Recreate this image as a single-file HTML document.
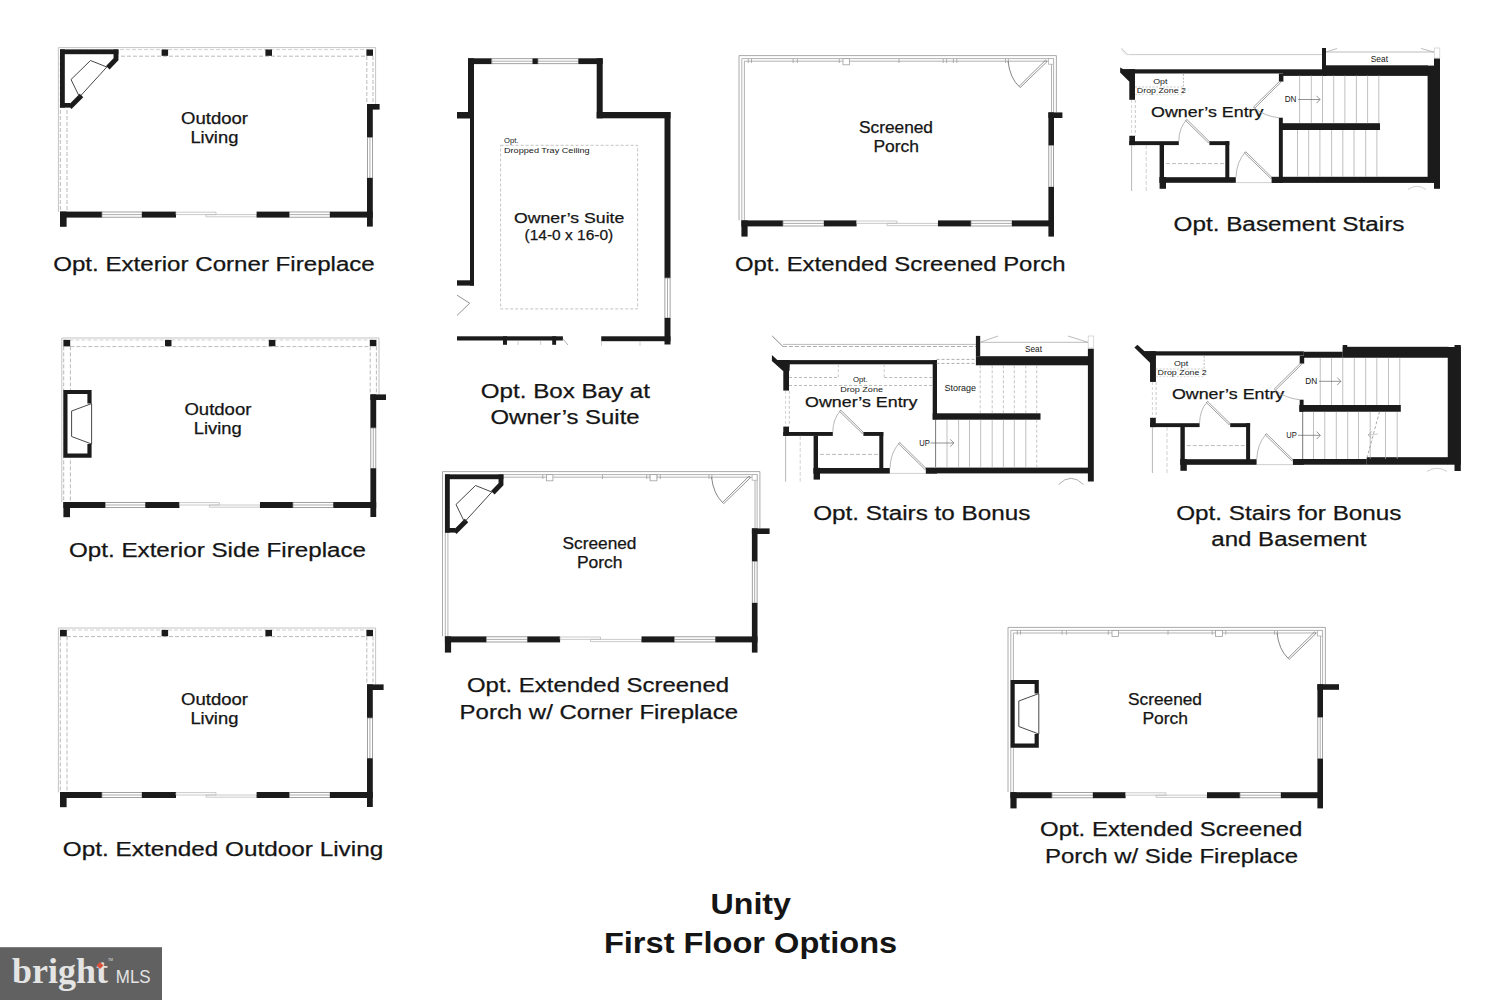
<!DOCTYPE html><html><head><meta charset="utf-8"><style>html,body{margin:0;padding:0;background:#fff;}svg{display:block;}text{font-family:"Liberation Sans",sans-serif;}</style></head><body>
<svg width="1500" height="1000" viewBox="0 0 1500 1000">
<rect x="0.00" y="0.00" width="1500.00" height="1000.00" fill="#fff"/>
<g transform="translate(0,0)">
<path d="M58.4 212 L58.4 47.6 L375.6 47.6 L375.6 104" fill="none" stroke="#bdbdbd" stroke-width="0.9" />
<line x1="60.00" y1="49.60" x2="373.00" y2="49.60" stroke="#c4c4c4" stroke-width="0.8" stroke-dasharray="4 2"/>
<line x1="67.00" y1="56.20" x2="366.50" y2="56.20" stroke="#a8a8a8" stroke-width="0.8" stroke-dasharray="4 2"/>
<line x1="60.30" y1="56.00" x2="60.30" y2="212.00" stroke="#a8a8a8" stroke-width="0.8" stroke-dasharray="4 2"/>
<line x1="67.00" y1="56.00" x2="67.00" y2="212.00" stroke="#a8a8a8" stroke-width="0.8" stroke-dasharray="4 2"/>
<line x1="366.80" y1="56.00" x2="366.80" y2="104.00" stroke="#a8a8a8" stroke-width="0.8" stroke-dasharray="4 2"/>
<line x1="373.00" y1="56.00" x2="373.00" y2="104.00" stroke="#a8a8a8" stroke-width="0.8" stroke-dasharray="4 2"/>
<rect x="161.60" y="49.50" width="6.50" height="6.30" fill="#1b1b1b"/>
<rect x="265.40" y="49.50" width="6.60" height="6.30" fill="#1b1b1b"/>
<rect x="366.40" y="49.50" width="6.60" height="6.30" fill="#1b1b1b"/>
<rect x="367.00" y="104.00" width="5.80" height="33.60" fill="#1b1b1b"/>
<rect x="367.00" y="104.00" width="12.60" height="5.60" fill="#1b1b1b"/>
<rect x="367.40" y="137.60" width="5.00" height="40.40" fill="#fff" stroke="#8a8a8a" stroke-width="0.8"/>
<line x1="369.90" y1="137.60" x2="369.90" y2="178.00" stroke="#8a8a8a" stroke-width="0.7"/>
<rect x="367.00" y="178.00" width="5.80" height="48.60" fill="#1b1b1b"/>
<rect x="60.00" y="211.60" width="6.60" height="15.20" fill="#1b1b1b"/>
<rect x="60.00" y="211.60" width="42.00" height="6.00" fill="#1b1b1b"/>
<rect x="102.00" y="212.00" width="40.00" height="5.20" fill="#fff" stroke="#8a8a8a" stroke-width="0.8"/>
<line x1="102.00" y1="214.60" x2="142.00" y2="214.60" stroke="#8a8a8a" stroke-width="0.7"/>
<rect x="142.00" y="211.60" width="34.00" height="6.00" fill="#1b1b1b"/>
<path d="M176 212.2 L216 212.2 L216 214.6 L176 214.6 Z" fill="none" stroke="#bdbdbd" stroke-width="0.8" />
<path d="M206 214.6 L256.6 214.6 L256.6 216.8 L206 216.8 Z" fill="none" stroke="#bdbdbd" stroke-width="0.8" />
<rect x="256.60" y="211.60" width="33.00" height="6.00" fill="#1b1b1b"/>
<rect x="289.60" y="212.00" width="40.40" height="5.20" fill="#fff" stroke="#8a8a8a" stroke-width="0.8"/>
<line x1="289.60" y1="214.60" x2="330.00" y2="214.60" stroke="#8a8a8a" stroke-width="0.7"/>
<rect x="330.00" y="211.60" width="42.80" height="6.00" fill="#1b1b1b"/>
<text x="181.00" y="124.20" font-size="15.6" font-weight="normal" fill="#151515" stroke="#151515" stroke-width="0.25" textLength="67.00" lengthAdjust="spacingAndGlyphs">Outdoor</text>
<text x="190.40" y="143.40" font-size="15.6" font-weight="normal" fill="#151515" stroke="#151515" stroke-width="0.25" textLength="48.00" lengthAdjust="spacingAndGlyphs">Living</text>
</g>
<g transform="translate(0,0)">
<polygon points="60,49.4 118.4,49.4 118.4,60 71,107.6 60,107.6" fill="#fff"/>
<rect x="60.00" y="49.40" width="58.40" height="4.80" fill="#1b1b1b"/>
<rect x="60.00" y="49.40" width="4.80" height="58.20" fill="#1b1b1b"/>
<rect x="60.00" y="103.00" width="10.00" height="4.60" fill="#1b1b1b"/>
<path d="M116 49.4 L116 59.2 L107.8 67.8" fill="none" stroke="#1b1b1b" stroke-width="4.9" stroke-linejoin="miter"/>
<path d="M81.5 95.5 L69.8 107.2" fill="none" stroke="#1b1b1b" stroke-width="4.9" />
<path d="M90.5 60.5 L106.8 67 L79.5 97 L71 79.5 Z" fill="none" stroke="#333" stroke-width="0.9" />
</g>
<text x="53.20" y="271.00" font-size="20" font-weight="normal" fill="#151515" stroke="#151515" stroke-width="0.25" textLength="321.60" lengthAdjust="spacingAndGlyphs">Opt. Exterior Corner Fireplace</text>
<g transform="translate(3.4,290.4)">
<path d="M58.4 212 L58.4 47.6 L375.6 47.6 L375.6 104" fill="none" stroke="#bdbdbd" stroke-width="0.9" />
<line x1="60.00" y1="49.60" x2="373.00" y2="49.60" stroke="#c4c4c4" stroke-width="0.8" stroke-dasharray="4 2"/>
<line x1="67.00" y1="56.20" x2="366.50" y2="56.20" stroke="#a8a8a8" stroke-width="0.8" stroke-dasharray="4 2"/>
<line x1="60.30" y1="56.00" x2="60.30" y2="212.00" stroke="#a8a8a8" stroke-width="0.8" stroke-dasharray="4 2"/>
<line x1="67.00" y1="56.00" x2="67.00" y2="212.00" stroke="#a8a8a8" stroke-width="0.8" stroke-dasharray="4 2"/>
<line x1="366.80" y1="56.00" x2="366.80" y2="104.00" stroke="#a8a8a8" stroke-width="0.8" stroke-dasharray="4 2"/>
<line x1="373.00" y1="56.00" x2="373.00" y2="104.00" stroke="#a8a8a8" stroke-width="0.8" stroke-dasharray="4 2"/>
<rect x="60.00" y="49.50" width="6.80" height="6.50" fill="#1b1b1b"/>
<rect x="161.60" y="49.50" width="6.50" height="6.30" fill="#1b1b1b"/>
<rect x="265.40" y="49.50" width="6.60" height="6.30" fill="#1b1b1b"/>
<rect x="366.40" y="49.50" width="6.60" height="6.30" fill="#1b1b1b"/>
<rect x="367.00" y="104.00" width="5.80" height="33.60" fill="#1b1b1b"/>
<rect x="367.00" y="104.00" width="15.60" height="5.60" fill="#1b1b1b"/>
<rect x="367.40" y="137.60" width="5.00" height="40.40" fill="#fff" stroke="#8a8a8a" stroke-width="0.8"/>
<line x1="369.90" y1="137.60" x2="369.90" y2="178.00" stroke="#8a8a8a" stroke-width="0.7"/>
<rect x="367.00" y="178.00" width="5.80" height="48.60" fill="#1b1b1b"/>
<rect x="60.00" y="211.60" width="6.60" height="15.20" fill="#1b1b1b"/>
<rect x="60.00" y="211.60" width="42.00" height="6.00" fill="#1b1b1b"/>
<rect x="102.00" y="212.00" width="40.00" height="5.20" fill="#fff" stroke="#8a8a8a" stroke-width="0.8"/>
<line x1="102.00" y1="214.60" x2="142.00" y2="214.60" stroke="#8a8a8a" stroke-width="0.7"/>
<rect x="142.00" y="211.60" width="34.00" height="6.00" fill="#1b1b1b"/>
<path d="M176 212.2 L216 212.2 L216 214.6 L176 214.6 Z" fill="none" stroke="#bdbdbd" stroke-width="0.8" />
<path d="M206 214.6 L256.6 214.6 L256.6 216.8 L206 216.8 Z" fill="none" stroke="#bdbdbd" stroke-width="0.8" />
<rect x="256.60" y="211.60" width="33.00" height="6.00" fill="#1b1b1b"/>
<rect x="289.60" y="212.00" width="40.40" height="5.20" fill="#fff" stroke="#8a8a8a" stroke-width="0.8"/>
<line x1="289.60" y1="214.60" x2="330.00" y2="214.60" stroke="#8a8a8a" stroke-width="0.7"/>
<rect x="330.00" y="211.60" width="42.80" height="6.00" fill="#1b1b1b"/>
<text x="181.00" y="124.20" font-size="15.6" font-weight="normal" fill="#151515" stroke="#151515" stroke-width="0.25" textLength="67.00" lengthAdjust="spacingAndGlyphs">Outdoor</text>
<text x="190.40" y="143.40" font-size="15.6" font-weight="normal" fill="#151515" stroke="#151515" stroke-width="0.25" textLength="48.00" lengthAdjust="spacingAndGlyphs">Living</text>
</g>
<g transform="translate(0,0)">
<rect x="63.40" y="390.00" width="28.20" height="67.60" fill="#fff"/>
<path d="M89.5 403.6 L89.5 392 L65.4 392 L65.4 455.6 L89.5 455.6 L89.5 444" fill="none" stroke="#1b1b1b" stroke-width="4.2" stroke-linejoin="miter"/>
<path d="M91.6 403.6 L71.6 411 L71.6 436.5 L91.6 444" fill="none" stroke="#333" stroke-width="0.9" />
<line x1="91.60" y1="403.60" x2="91.60" y2="444.00" stroke="#333" stroke-width="0.9"/>
</g>
<text x="69.00" y="556.50" font-size="20" font-weight="normal" fill="#151515" stroke="#151515" stroke-width="0.25" textLength="297.00" lengthAdjust="spacingAndGlyphs">Opt. Exterior Side Fireplace</text>
<g transform="translate(0,580.4)">
<path d="M58.4 212 L58.4 47.6 L375.6 47.6 L375.6 104" fill="none" stroke="#bdbdbd" stroke-width="0.9" />
<line x1="60.00" y1="49.60" x2="373.00" y2="49.60" stroke="#c4c4c4" stroke-width="0.8" stroke-dasharray="4 2"/>
<line x1="67.00" y1="56.20" x2="366.50" y2="56.20" stroke="#a8a8a8" stroke-width="0.8" stroke-dasharray="4 2"/>
<line x1="60.30" y1="56.00" x2="60.30" y2="212.00" stroke="#a8a8a8" stroke-width="0.8" stroke-dasharray="4 2"/>
<line x1="67.00" y1="56.00" x2="67.00" y2="212.00" stroke="#a8a8a8" stroke-width="0.8" stroke-dasharray="4 2"/>
<line x1="366.80" y1="56.00" x2="366.80" y2="104.00" stroke="#a8a8a8" stroke-width="0.8" stroke-dasharray="4 2"/>
<line x1="373.00" y1="56.00" x2="373.00" y2="104.00" stroke="#a8a8a8" stroke-width="0.8" stroke-dasharray="4 2"/>
<rect x="60.00" y="49.50" width="6.80" height="6.50" fill="#1b1b1b"/>
<rect x="161.60" y="49.50" width="6.50" height="6.30" fill="#1b1b1b"/>
<rect x="265.40" y="49.50" width="6.60" height="6.30" fill="#1b1b1b"/>
<rect x="366.40" y="49.50" width="6.60" height="6.30" fill="#1b1b1b"/>
<rect x="367.00" y="104.00" width="5.80" height="33.60" fill="#1b1b1b"/>
<rect x="367.00" y="104.00" width="16.60" height="5.60" fill="#1b1b1b"/>
<rect x="367.40" y="137.60" width="5.00" height="40.40" fill="#fff" stroke="#8a8a8a" stroke-width="0.8"/>
<line x1="369.90" y1="137.60" x2="369.90" y2="178.00" stroke="#8a8a8a" stroke-width="0.7"/>
<rect x="367.00" y="178.00" width="5.80" height="48.60" fill="#1b1b1b"/>
<rect x="60.00" y="211.60" width="6.60" height="15.20" fill="#1b1b1b"/>
<rect x="60.00" y="211.60" width="42.00" height="6.00" fill="#1b1b1b"/>
<rect x="102.00" y="212.00" width="40.00" height="5.20" fill="#fff" stroke="#8a8a8a" stroke-width="0.8"/>
<line x1="102.00" y1="214.60" x2="142.00" y2="214.60" stroke="#8a8a8a" stroke-width="0.7"/>
<rect x="142.00" y="211.60" width="34.00" height="6.00" fill="#1b1b1b"/>
<path d="M176 212.2 L216 212.2 L216 214.6 L176 214.6 Z" fill="none" stroke="#bdbdbd" stroke-width="0.8" />
<path d="M206 214.6 L256.6 214.6 L256.6 216.8 L206 216.8 Z" fill="none" stroke="#bdbdbd" stroke-width="0.8" />
<rect x="256.60" y="211.60" width="33.00" height="6.00" fill="#1b1b1b"/>
<rect x="289.60" y="212.00" width="40.40" height="5.20" fill="#fff" stroke="#8a8a8a" stroke-width="0.8"/>
<line x1="289.60" y1="214.60" x2="330.00" y2="214.60" stroke="#8a8a8a" stroke-width="0.7"/>
<rect x="330.00" y="211.60" width="42.80" height="6.00" fill="#1b1b1b"/>
<text x="181.00" y="124.20" font-size="15.6" font-weight="normal" fill="#151515" stroke="#151515" stroke-width="0.25" textLength="67.00" lengthAdjust="spacingAndGlyphs">Outdoor</text>
<text x="190.40" y="143.40" font-size="15.6" font-weight="normal" fill="#151515" stroke="#151515" stroke-width="0.25" textLength="48.00" lengthAdjust="spacingAndGlyphs">Living</text>
</g>
<text x="62.80" y="856.00" font-size="20" font-weight="normal" fill="#151515" stroke="#151515" stroke-width="0.25" textLength="320.40" lengthAdjust="spacingAndGlyphs">Opt. Extended Outdoor Living</text>
<g transform="translate(0,0)">
<path d="M739 220.4 L739 55.6 L1056.4 55.6 L1056.4 112.4" fill="none" stroke="#a0a0a0" stroke-width="0.9" />
<line x1="741.80" y1="58.60" x2="1053.60" y2="58.60" stroke="#a0a0a0" stroke-width="0.8"/>
<line x1="744.40" y1="61.20" x2="1051.50" y2="61.20" stroke="#a0a0a0" stroke-width="0.8"/>
<line x1="741.80" y1="58.60" x2="741.80" y2="220.40" stroke="#a0a0a0" stroke-width="0.8"/>
<line x1="744.40" y1="61.20" x2="744.40" y2="220.40" stroke="#a0a0a0" stroke-width="0.8"/>
<line x1="1053.60" y1="58.60" x2="1053.60" y2="112.40" stroke="#a0a0a0" stroke-width="0.8"/>
<line x1="1051.50" y1="61.20" x2="1051.50" y2="112.40" stroke="#a0a0a0" stroke-width="0.8"/>
<line x1="748.30" y1="58.60" x2="748.30" y2="63.00" stroke="#a0a0a0" stroke-width="0.8"/>
<line x1="751.50" y1="58.60" x2="751.50" y2="63.00" stroke="#a0a0a0" stroke-width="0.8"/>
<line x1="793.10" y1="58.60" x2="793.10" y2="63.00" stroke="#a0a0a0" stroke-width="0.8"/>
<line x1="797.40" y1="58.60" x2="797.40" y2="63.00" stroke="#a0a0a0" stroke-width="0.8"/>
<line x1="839.30" y1="58.60" x2="839.30" y2="63.00" stroke="#a0a0a0" stroke-width="0.8"/>
<line x1="899.00" y1="58.60" x2="899.00" y2="63.00" stroke="#a0a0a0" stroke-width="0.8"/>
<line x1="943.20" y1="58.60" x2="943.20" y2="63.00" stroke="#a0a0a0" stroke-width="0.8"/>
<line x1="946.60" y1="58.60" x2="946.60" y2="63.00" stroke="#a0a0a0" stroke-width="0.8"/>
<line x1="953.40" y1="58.60" x2="953.40" y2="63.00" stroke="#a0a0a0" stroke-width="0.8"/>
<line x1="956.80" y1="58.60" x2="956.80" y2="63.00" stroke="#a0a0a0" stroke-width="0.8"/>
<line x1="1005.50" y1="58.60" x2="1005.50" y2="63.00" stroke="#a0a0a0" stroke-width="0.8"/>
<line x1="1008.40" y1="58.60" x2="1008.40" y2="63.00" stroke="#a0a0a0" stroke-width="0.8"/>
<rect x="843" y="58.6" width="6.4" height="6.2" fill="#fff" stroke="#a0a0a0" stroke-width="0.8"/>
<rect x="1048.6" y="58.6" width="5" height="5.6" fill="#fff" stroke="#a8a8a8" stroke-width="0.7"/>
<path d="M1008 61.2 Q1010 78 1019 86.4" fill="none" stroke="#666" stroke-width="0.8" />
<path d="M1019 86.4 L1045.5 60.2 L1047 61.6 L1020.2 87.6 Z" fill="none" stroke="#666" stroke-width="0.7" />
<rect x="1048.40" y="112.40" width="5.60" height="33.20" fill="#1b1b1b"/>
<rect x="1048.40" y="112.40" width="14.00" height="5.60" fill="#1b1b1b"/>
<rect x="1048.80" y="145.60" width="4.80" height="41.40" fill="#fff" stroke="#8a8a8a" stroke-width="0.8"/>
<line x1="1051.20" y1="145.60" x2="1051.20" y2="187.00" stroke="#8a8a8a" stroke-width="0.7"/>
<rect x="1048.40" y="187.00" width="5.60" height="49.60" fill="#1b1b1b"/>
<rect x="741.40" y="220.40" width="6.20" height="16.20" fill="#1b1b1b"/>
<rect x="741.40" y="220.40" width="41.60" height="6.00" fill="#1b1b1b"/>
<rect x="783.00" y="220.80" width="41.00" height="5.20" fill="#fff" stroke="#8a8a8a" stroke-width="0.8"/>
<line x1="783.00" y1="223.40" x2="824.00" y2="223.40" stroke="#8a8a8a" stroke-width="0.7"/>
<rect x="824.00" y="220.40" width="32.60" height="6.00" fill="#1b1b1b"/>
<path d="M856.6 221 L897 221 L897 223.4 L856.6 223.4 Z" fill="none" stroke="#bdbdbd" stroke-width="0.8" />
<path d="M887 223.4 L938 223.4 L938 225.6 L887 225.6 Z" fill="none" stroke="#bdbdbd" stroke-width="0.8" />
<rect x="938.00" y="220.40" width="33.00" height="6.00" fill="#1b1b1b"/>
<rect x="971.00" y="220.80" width="41.00" height="5.20" fill="#fff" stroke="#8a8a8a" stroke-width="0.8"/>
<line x1="971.00" y1="223.40" x2="1012.00" y2="223.40" stroke="#8a8a8a" stroke-width="0.7"/>
<rect x="1012.00" y="220.40" width="42.00" height="6.00" fill="#1b1b1b"/>
<text x="859.00" y="133.20" font-size="15.6" font-weight="normal" fill="#151515" stroke="#151515" stroke-width="0.25" textLength="74.00" lengthAdjust="spacingAndGlyphs">Screened</text>
<text x="873.40" y="152.20" font-size="15.6" font-weight="normal" fill="#151515" stroke="#151515" stroke-width="0.25" textLength="45.60" lengthAdjust="spacingAndGlyphs">Porch</text>
</g>
<text x="734.90" y="271.20" font-size="20" font-weight="normal" fill="#151515" stroke="#151515" stroke-width="0.25" textLength="330.70" lengthAdjust="spacingAndGlyphs">Opt. Extended Screened Porch</text>
<g transform="translate(-296.5,416)">
<path d="M739 220.4 L739 55.6 L1056.4 55.6 L1056.4 112.4" fill="none" stroke="#a0a0a0" stroke-width="0.9" />
<line x1="741.80" y1="58.60" x2="1053.60" y2="58.60" stroke="#a0a0a0" stroke-width="0.8"/>
<line x1="744.40" y1="61.20" x2="1051.50" y2="61.20" stroke="#a0a0a0" stroke-width="0.8"/>
<line x1="741.80" y1="58.60" x2="741.80" y2="220.40" stroke="#a0a0a0" stroke-width="0.8"/>
<line x1="744.40" y1="61.20" x2="744.40" y2="220.40" stroke="#a0a0a0" stroke-width="0.8"/>
<line x1="1053.60" y1="58.60" x2="1053.60" y2="112.40" stroke="#a0a0a0" stroke-width="0.8"/>
<line x1="1051.50" y1="61.20" x2="1051.50" y2="112.40" stroke="#a0a0a0" stroke-width="0.8"/>
<line x1="748.30" y1="58.60" x2="748.30" y2="63.00" stroke="#a0a0a0" stroke-width="0.8"/>
<line x1="751.50" y1="58.60" x2="751.50" y2="63.00" stroke="#a0a0a0" stroke-width="0.8"/>
<line x1="793.10" y1="58.60" x2="793.10" y2="63.00" stroke="#a0a0a0" stroke-width="0.8"/>
<line x1="797.40" y1="58.60" x2="797.40" y2="63.00" stroke="#a0a0a0" stroke-width="0.8"/>
<line x1="839.30" y1="58.60" x2="839.30" y2="63.00" stroke="#a0a0a0" stroke-width="0.8"/>
<line x1="899.00" y1="58.60" x2="899.00" y2="63.00" stroke="#a0a0a0" stroke-width="0.8"/>
<line x1="943.20" y1="58.60" x2="943.20" y2="63.00" stroke="#a0a0a0" stroke-width="0.8"/>
<line x1="946.60" y1="58.60" x2="946.60" y2="63.00" stroke="#a0a0a0" stroke-width="0.8"/>
<line x1="953.40" y1="58.60" x2="953.40" y2="63.00" stroke="#a0a0a0" stroke-width="0.8"/>
<line x1="956.80" y1="58.60" x2="956.80" y2="63.00" stroke="#a0a0a0" stroke-width="0.8"/>
<line x1="1005.50" y1="58.60" x2="1005.50" y2="63.00" stroke="#a0a0a0" stroke-width="0.8"/>
<line x1="1008.40" y1="58.60" x2="1008.40" y2="63.00" stroke="#a0a0a0" stroke-width="0.8"/>
<rect x="843" y="58.6" width="6.4" height="6.2" fill="#fff" stroke="#a0a0a0" stroke-width="0.8"/>
<rect x="946.6" y="58.6" width="6.8" height="6.2" fill="#fff" stroke="#a0a0a0" stroke-width="0.8"/>
<rect x="1048.6" y="58.6" width="5" height="5.6" fill="#fff" stroke="#a8a8a8" stroke-width="0.7"/>
<path d="M1008 61.2 Q1010 78 1019 86.4" fill="none" stroke="#666" stroke-width="0.8" />
<path d="M1019 86.4 L1045.5 60.2 L1047 61.6 L1020.2 87.6 Z" fill="none" stroke="#666" stroke-width="0.7" />
<rect x="1048.40" y="112.40" width="5.60" height="33.20" fill="#1b1b1b"/>
<rect x="1048.40" y="112.40" width="17.70" height="5.60" fill="#1b1b1b"/>
<rect x="1048.80" y="145.60" width="4.80" height="41.40" fill="#fff" stroke="#8a8a8a" stroke-width="0.8"/>
<line x1="1051.20" y1="145.60" x2="1051.20" y2="187.00" stroke="#8a8a8a" stroke-width="0.7"/>
<rect x="1048.40" y="187.00" width="5.60" height="49.60" fill="#1b1b1b"/>
<rect x="741.40" y="220.40" width="6.20" height="16.20" fill="#1b1b1b"/>
<rect x="741.40" y="220.40" width="41.60" height="6.00" fill="#1b1b1b"/>
<rect x="783.00" y="220.80" width="41.00" height="5.20" fill="#fff" stroke="#8a8a8a" stroke-width="0.8"/>
<line x1="783.00" y1="223.40" x2="824.00" y2="223.40" stroke="#8a8a8a" stroke-width="0.7"/>
<rect x="824.00" y="220.40" width="32.60" height="6.00" fill="#1b1b1b"/>
<path d="M856.6 221 L897 221 L897 223.4 L856.6 223.4 Z" fill="none" stroke="#bdbdbd" stroke-width="0.8" />
<path d="M887 223.4 L938 223.4 L938 225.6 L887 225.6 Z" fill="none" stroke="#bdbdbd" stroke-width="0.8" />
<rect x="938.00" y="220.40" width="33.00" height="6.00" fill="#1b1b1b"/>
<rect x="971.00" y="220.80" width="41.00" height="5.20" fill="#fff" stroke="#8a8a8a" stroke-width="0.8"/>
<line x1="971.00" y1="223.40" x2="1012.00" y2="223.40" stroke="#8a8a8a" stroke-width="0.7"/>
<rect x="1012.00" y="220.40" width="42.00" height="6.00" fill="#1b1b1b"/>
<text x="859.00" y="133.20" font-size="15.6" font-weight="normal" fill="#151515" stroke="#151515" stroke-width="0.25" textLength="74.00" lengthAdjust="spacingAndGlyphs">Screened</text>
<text x="873.40" y="152.20" font-size="15.6" font-weight="normal" fill="#151515" stroke="#151515" stroke-width="0.25" textLength="45.60" lengthAdjust="spacingAndGlyphs">Porch</text>
</g>
<g transform="translate(385,425)">
<polygon points="60,49.4 118.4,49.4 118.4,60 71,107.6 60,107.6" fill="#fff"/>
<rect x="60.00" y="49.40" width="58.40" height="4.80" fill="#1b1b1b"/>
<rect x="60.00" y="49.40" width="4.80" height="58.20" fill="#1b1b1b"/>
<rect x="60.00" y="103.00" width="10.00" height="4.60" fill="#1b1b1b"/>
<path d="M116 49.4 L116 59.2 L107.8 67.8" fill="none" stroke="#1b1b1b" stroke-width="4.9" stroke-linejoin="miter"/>
<path d="M81.5 95.5 L69.8 107.2" fill="none" stroke="#1b1b1b" stroke-width="4.9" />
<path d="M90.5 60.5 L106.8 67 L79.5 97 L71 79.5 Z" fill="none" stroke="#333" stroke-width="0.9" />
</g>
<text x="467.00" y="692.00" font-size="20" font-weight="normal" fill="#151515" stroke="#151515" stroke-width="0.25" textLength="262.00" lengthAdjust="spacingAndGlyphs">Opt. Extended Screened</text>
<text x="459.60" y="719.00" font-size="20" font-weight="normal" fill="#151515" stroke="#151515" stroke-width="0.25" textLength="278.40" lengthAdjust="spacingAndGlyphs">Porch w/ Corner Fireplace</text>
<g transform="translate(269,571.8)">
<path d="M739 220.4 L739 55.6 L1056.4 55.6 L1056.4 112.4" fill="none" stroke="#a0a0a0" stroke-width="0.9" />
<line x1="741.80" y1="58.60" x2="1053.60" y2="58.60" stroke="#a0a0a0" stroke-width="0.8"/>
<line x1="744.40" y1="61.20" x2="1051.50" y2="61.20" stroke="#a0a0a0" stroke-width="0.8"/>
<line x1="741.80" y1="58.60" x2="741.80" y2="220.40" stroke="#a0a0a0" stroke-width="0.8"/>
<line x1="744.40" y1="61.20" x2="744.40" y2="220.40" stroke="#a0a0a0" stroke-width="0.8"/>
<line x1="1053.60" y1="58.60" x2="1053.60" y2="112.40" stroke="#a0a0a0" stroke-width="0.8"/>
<line x1="1051.50" y1="61.20" x2="1051.50" y2="112.40" stroke="#a0a0a0" stroke-width="0.8"/>
<line x1="748.30" y1="58.60" x2="748.30" y2="63.00" stroke="#a0a0a0" stroke-width="0.8"/>
<line x1="751.50" y1="58.60" x2="751.50" y2="63.00" stroke="#a0a0a0" stroke-width="0.8"/>
<line x1="793.10" y1="58.60" x2="793.10" y2="63.00" stroke="#a0a0a0" stroke-width="0.8"/>
<line x1="797.40" y1="58.60" x2="797.40" y2="63.00" stroke="#a0a0a0" stroke-width="0.8"/>
<line x1="839.30" y1="58.60" x2="839.30" y2="63.00" stroke="#a0a0a0" stroke-width="0.8"/>
<line x1="899.00" y1="58.60" x2="899.00" y2="63.00" stroke="#a0a0a0" stroke-width="0.8"/>
<line x1="943.20" y1="58.60" x2="943.20" y2="63.00" stroke="#a0a0a0" stroke-width="0.8"/>
<line x1="946.60" y1="58.60" x2="946.60" y2="63.00" stroke="#a0a0a0" stroke-width="0.8"/>
<line x1="953.40" y1="58.60" x2="953.40" y2="63.00" stroke="#a0a0a0" stroke-width="0.8"/>
<line x1="956.80" y1="58.60" x2="956.80" y2="63.00" stroke="#a0a0a0" stroke-width="0.8"/>
<line x1="1005.50" y1="58.60" x2="1005.50" y2="63.00" stroke="#a0a0a0" stroke-width="0.8"/>
<line x1="1008.40" y1="58.60" x2="1008.40" y2="63.00" stroke="#a0a0a0" stroke-width="0.8"/>
<rect x="843" y="58.6" width="6.4" height="6.2" fill="#fff" stroke="#a0a0a0" stroke-width="0.8"/>
<rect x="946.6" y="58.6" width="6.8" height="6.2" fill="#fff" stroke="#a0a0a0" stroke-width="0.8"/>
<rect x="1048.6" y="58.6" width="5" height="5.6" fill="#fff" stroke="#a8a8a8" stroke-width="0.7"/>
<path d="M1008 61.2 Q1010 78 1019 86.4" fill="none" stroke="#666" stroke-width="0.8" />
<path d="M1019 86.4 L1045.5 60.2 L1047 61.6 L1020.2 87.6 Z" fill="none" stroke="#666" stroke-width="0.7" />
<rect x="1048.40" y="112.40" width="5.60" height="33.20" fill="#1b1b1b"/>
<rect x="1048.40" y="112.40" width="21.60" height="5.60" fill="#1b1b1b"/>
<rect x="1048.80" y="145.60" width="4.80" height="41.40" fill="#fff" stroke="#8a8a8a" stroke-width="0.8"/>
<line x1="1051.20" y1="145.60" x2="1051.20" y2="187.00" stroke="#8a8a8a" stroke-width="0.7"/>
<rect x="1048.40" y="187.00" width="5.60" height="49.60" fill="#1b1b1b"/>
<rect x="741.40" y="220.40" width="6.20" height="16.20" fill="#1b1b1b"/>
<rect x="741.40" y="220.40" width="41.60" height="6.00" fill="#1b1b1b"/>
<rect x="783.00" y="220.80" width="41.00" height="5.20" fill="#fff" stroke="#8a8a8a" stroke-width="0.8"/>
<line x1="783.00" y1="223.40" x2="824.00" y2="223.40" stroke="#8a8a8a" stroke-width="0.7"/>
<rect x="824.00" y="220.40" width="32.60" height="6.00" fill="#1b1b1b"/>
<path d="M856.6 221 L897 221 L897 223.4 L856.6 223.4 Z" fill="none" stroke="#bdbdbd" stroke-width="0.8" />
<path d="M887 223.4 L938 223.4 L938 225.6 L887 225.6 Z" fill="none" stroke="#bdbdbd" stroke-width="0.8" />
<rect x="938.00" y="220.40" width="33.00" height="6.00" fill="#1b1b1b"/>
<rect x="971.00" y="220.80" width="41.00" height="5.20" fill="#fff" stroke="#8a8a8a" stroke-width="0.8"/>
<line x1="971.00" y1="223.40" x2="1012.00" y2="223.40" stroke="#8a8a8a" stroke-width="0.7"/>
<rect x="1012.00" y="220.40" width="42.00" height="6.00" fill="#1b1b1b"/>
<text x="859.00" y="133.20" font-size="15.6" font-weight="normal" fill="#151515" stroke="#151515" stroke-width="0.25" textLength="74.00" lengthAdjust="spacingAndGlyphs">Screened</text>
<text x="873.40" y="152.20" font-size="15.6" font-weight="normal" fill="#151515" stroke="#151515" stroke-width="0.25" textLength="45.60" lengthAdjust="spacingAndGlyphs">Porch</text>
</g>
<g transform="translate(947.2,290)">
<rect x="63.40" y="390.00" width="28.20" height="67.60" fill="#fff"/>
<path d="M89.5 403.6 L89.5 392 L65.4 392 L65.4 455.6 L89.5 455.6 L89.5 444" fill="none" stroke="#1b1b1b" stroke-width="4.2" stroke-linejoin="miter"/>
<path d="M91.6 403.6 L71.6 411 L71.6 436.5 L91.6 444" fill="none" stroke="#333" stroke-width="0.9" />
<line x1="91.60" y1="403.60" x2="91.60" y2="444.00" stroke="#333" stroke-width="0.9"/>
</g>
<text x="1040.00" y="836.00" font-size="20" font-weight="normal" fill="#151515" stroke="#151515" stroke-width="0.25" textLength="262.40" lengthAdjust="spacingAndGlyphs">Opt. Extended Screened</text>
<text x="1045.00" y="863.00" font-size="20" font-weight="normal" fill="#151515" stroke="#151515" stroke-width="0.25" textLength="253.00" lengthAdjust="spacingAndGlyphs">Porch w/ Side Fireplace</text>
<rect x="468.00" y="58.30" width="6.00" height="53.70" fill="#1b1b1b"/>
<rect x="470.00" y="112.00" width="4.00" height="173.60" fill="#1b1b1b"/>
<rect x="457.00" y="112.00" width="17.00" height="6.50" fill="#1b1b1b"/>
<rect x="457.00" y="280.30" width="17.00" height="5.30" fill="#1b1b1b"/>
<rect x="468.00" y="58.30" width="23.80" height="5.80" fill="#1b1b1b"/>
<rect x="491.80" y="58.70" width="40.90" height="5.00" fill="#fff" stroke="#8a8a8a" stroke-width="0.8"/>
<line x1="491.80" y1="61.20" x2="532.70" y2="61.20" stroke="#8a8a8a" stroke-width="0.7"/>
<rect x="532.70" y="58.30" width="5.30" height="5.80" fill="#1b1b1b"/>
<rect x="538.00" y="58.70" width="40.50" height="5.00" fill="#fff" stroke="#8a8a8a" stroke-width="0.8"/>
<line x1="538.00" y1="61.20" x2="578.50" y2="61.20" stroke="#8a8a8a" stroke-width="0.7"/>
<rect x="578.50" y="58.30" width="24.20" height="5.80" fill="#1b1b1b"/>
<rect x="596.70" y="58.30" width="6.00" height="60.00" fill="#1b1b1b"/>
<rect x="596.70" y="112.00" width="73.80" height="6.30" fill="#1b1b1b"/>
<rect x="664.50" y="112.00" width="6.00" height="166.00" fill="#1b1b1b"/>
<rect x="664.90" y="278.00" width="5.20" height="40.00" fill="#fff" stroke="#8a8a8a" stroke-width="0.8"/>
<line x1="667.50" y1="278.00" x2="667.50" y2="318.00" stroke="#8a8a8a" stroke-width="0.7"/>
<rect x="664.50" y="318.00" width="6.00" height="26.50" fill="#1b1b1b"/>
<rect x="457.00" y="336.30" width="105.90" height="4.20" fill="#1b1b1b"/>
<rect x="503.00" y="336.30" width="4.00" height="8.50" fill="#1b1b1b"/>
<rect x="552.20" y="336.30" width="3.90" height="8.50" fill="#1b1b1b"/>
<rect x="601.25" y="336.30" width="69.25" height="4.90" fill="#1b1b1b"/>
<path d="M457 295.2 L469.7 303.2 L457 315.5" fill="none" stroke="#777" stroke-width="0.8" />
<line x1="562.90" y1="339.00" x2="568.00" y2="345.00" stroke="#999" stroke-width="0.8"/>
<line x1="518.00" y1="341.00" x2="518.00" y2="345.00" stroke="#bbb" stroke-width="0.7"/>
<line x1="540.60" y1="341.00" x2="540.60" y2="345.00" stroke="#bbb" stroke-width="0.7"/>
<line x1="601.50" y1="341.00" x2="601.50" y2="346.00" stroke="#bbb" stroke-width="0.7"/>
<line x1="640.00" y1="341.00" x2="640.00" y2="346.00" stroke="#bbb" stroke-width="0.7"/>
<rect x="500.6" y="145.3" width="137" height="163.6" fill="none" stroke="#b5b5b5" stroke-width="0.8" stroke-dasharray="3 2"/>
<text x="504.00" y="143.00" font-size="8" font-weight="normal" fill="#151515" stroke="#151515" stroke-width="0" textLength="14.40" lengthAdjust="spacingAndGlyphs">Opt.</text>
<text x="504.00" y="153.00" font-size="8" font-weight="normal" fill="#151515" stroke="#151515" stroke-width="0" textLength="85.60" lengthAdjust="spacingAndGlyphs">Dropped Tray Ceiling</text>
<text x="514.00" y="223.20" font-size="15.4" font-weight="normal" fill="#151515" stroke="#151515" stroke-width="0.25" textLength="110.30" lengthAdjust="spacingAndGlyphs">Owner&#8217;s Suite</text>
<text x="524.50" y="239.60" font-size="15.4" font-weight="normal" fill="#151515" stroke="#151515" stroke-width="0.25" textLength="88.70" lengthAdjust="spacingAndGlyphs">(14-0 x 16-0)</text>
<text x="480.80" y="398.00" font-size="20" font-weight="normal" fill="#151515" stroke="#151515" stroke-width="0.25" textLength="169.20" lengthAdjust="spacingAndGlyphs">Opt. Box Bay at</text>
<text x="490.40" y="424.30" font-size="20" font-weight="normal" fill="#151515" stroke="#151515" stroke-width="0.25" textLength="149.20" lengthAdjust="spacingAndGlyphs">Owner&#8217;s Suite</text>
<g transform="translate(0,0)">
<polygon points="1120.2,67.4 1123.3,69.2 1135,69.2 1135,81.6 1129.2,81.6 1120.1,72.5" fill="#1b1b1b"/>
<rect x="1122.00" y="69.30" width="161.00" height="4.20" fill="#1b1b1b"/>
<rect x="1129.30" y="69.40" width="5.70" height="30.40" fill="#1b1b1b"/>
<line x1="1131.60" y1="100.00" x2="1131.60" y2="135.80" stroke="#c8c8c8" stroke-width="0.8" stroke-dasharray="3 2"/>
<line x1="1135.30" y1="100.00" x2="1135.30" y2="135.80" stroke="#b8b8b8" stroke-width="0.8" stroke-dasharray="3 2"/>
<rect x="1129.30" y="135.80" width="5.70" height="9.30" fill="#1b1b1b"/>
<rect x="1129.30" y="141.20" width="49.50" height="3.90" fill="#1b1b1b"/>
<path d="M1209.4 141.6 L1186.8 119.4 L1185.6 120.6 L1208.2 142.6 Z" fill="none" stroke="#777" stroke-width="0.7" />
<path d="M1186.5 119.8 Q1179 128 1178.8 141" fill="none" stroke="#999" stroke-width="0.7" />
<rect x="1209.40" y="141.20" width="19.90" height="3.90" fill="#1b1b1b"/>
<rect x="1225.30" y="141.20" width="4.00" height="37.10" fill="#1b1b1b"/>
<rect x="1159.60" y="145.00" width="4.40" height="37.80" fill="#1b1b1b"/>
<rect x="1159.60" y="177.00" width="6.40" height="11.80" fill="#1b1b1b"/>
<rect x="1159.60" y="177.20" width="76.20" height="5.60" fill="#1b1b1b"/>
<path d="M1272.1 177.6 L1245.7 151.7 L1244.5 152.9 L1270.9 178.6 Z" fill="none" stroke="#777" stroke-width="0.7" />
<path d="M1245.4 152 Q1236.5 162 1236 177" fill="none" stroke="#999" stroke-width="0.7" />
<line x1="1236.00" y1="182.60" x2="1272.00" y2="182.60" stroke="#bbb" stroke-width="0.7"/>
<rect x="1272.10" y="177.20" width="10.90" height="5.60" fill="#1b1b1b"/>
<line x1="1166.00" y1="163.60" x2="1225.30" y2="163.60" stroke="#aaa" stroke-width="0.8" stroke-dasharray="4 2"/>
<line x1="1131.60" y1="145.00" x2="1131.60" y2="191.00" stroke="#9a9a9a" stroke-width="0.7"/>
<line x1="1146.20" y1="145.00" x2="1146.20" y2="191.00" stroke="#c5c5c5" stroke-width="0.8" stroke-dasharray="4 2"/>
<line x1="1121.20" y1="48.00" x2="1128.10" y2="54.90" stroke="#bbb" stroke-width="0.8"/>
<line x1="1121.20" y1="49.50" x2="1127.00" y2="55.30" stroke="#d5d5d5" stroke-width="0.7"/>
<line x1="1128.40" y1="54.60" x2="1322.00" y2="54.60" stroke="#c4c4c4" stroke-width="0.9"/>
<text x="1151.10" y="116.50" font-size="15.2" font-weight="normal" fill="#151515" stroke="#151515" stroke-width="0.25" textLength="112.40" lengthAdjust="spacingAndGlyphs">Owner&#8217;s Entry</text>
<line x1="1183.40" y1="74.00" x2="1183.40" y2="95.00" stroke="#aaa" stroke-width="0.8" stroke-dasharray="2 1.5"/>
<line x1="1135.00" y1="87.00" x2="1183.40" y2="87.00" stroke="#bbb" stroke-width="0.8" stroke-dasharray="2 1.5"/>
<line x1="1135.00" y1="94.60" x2="1183.40" y2="94.60" stroke="#ccc" stroke-width="0.7" stroke-dasharray="2 1.5"/>
<text x="1153.20" y="83.80" font-size="7.8" font-weight="normal" fill="#151515" stroke="#151515" stroke-width="0" textLength="14.20" lengthAdjust="spacingAndGlyphs">Opt</text>
<text x="1136.80" y="93.00" font-size="7.8" font-weight="normal" fill="#151515" stroke="#151515" stroke-width="0" textLength="49.20" lengthAdjust="spacingAndGlyphs">Drop Zone 2</text>
<rect x="1278.90" y="117.70" width="3.90" height="65.10" fill="#1b1b1b"/>
<rect x="1278.90" y="73.60" width="4.50" height="8.00" fill="#1b1b1b"/>
<path d="M1279.5 81.4 L1253.5 107 L1254.7 108.2 L1280.6 82.6 Z" fill="none" stroke="#777" stroke-width="0.7" />
<path d="M1253.8 107.5 Q1265 116.5 1278.9 117.7" fill="none" stroke="#999" stroke-width="0.7" />
</g>
<rect x="1283.00" y="69.30" width="43.00" height="6.60" fill="#1b1b1b"/>
<rect x="1322.00" y="65.30" width="106.00" height="10.60" fill="#1b1b1b"/>
<rect x="1322.00" y="48.00" width="4.00" height="22.00" fill="#1b1b1b"/>
<rect x="1427.60" y="65.60" width="12.40" height="116.80" fill="#1b1b1b"/>
<rect x="1434.00" y="58.40" width="6.00" height="130.40" fill="#1b1b1b"/>
<rect x="1279.60" y="123.20" width="100.40" height="6.80" fill="#1b1b1b"/>
<rect x="1271.60" y="176.80" width="168.40" height="6.10" fill="#1b1b1b"/>
<line x1="1299.60" y1="75.50" x2="1299.60" y2="123.20" stroke="#a5a5a5" stroke-width="0.7"/>
<line x1="1311.30" y1="75.50" x2="1311.30" y2="123.20" stroke="#a5a5a5" stroke-width="0.7"/>
<line x1="1322.50" y1="75.50" x2="1322.50" y2="123.20" stroke="#a5a5a5" stroke-width="0.7"/>
<line x1="1333.70" y1="75.50" x2="1333.70" y2="123.20" stroke="#a5a5a5" stroke-width="0.7"/>
<line x1="1344.90" y1="75.50" x2="1344.90" y2="123.20" stroke="#a5a5a5" stroke-width="0.7"/>
<line x1="1356.40" y1="75.50" x2="1356.40" y2="123.20" stroke="#a5a5a5" stroke-width="0.7"/>
<line x1="1367.60" y1="75.50" x2="1367.60" y2="123.20" stroke="#a5a5a5" stroke-width="0.7"/>
<line x1="1378.80" y1="75.50" x2="1378.80" y2="123.20" stroke="#a5a5a5" stroke-width="0.7"/>
<line x1="1297.50" y1="130.00" x2="1297.50" y2="176.80" stroke="#a5a5a5" stroke-width="0.7"/>
<line x1="1308.70" y1="130.00" x2="1308.70" y2="176.80" stroke="#a5a5a5" stroke-width="0.7"/>
<line x1="1319.90" y1="130.00" x2="1319.90" y2="176.80" stroke="#a5a5a5" stroke-width="0.7"/>
<line x1="1331.60" y1="130.00" x2="1331.60" y2="176.80" stroke="#a5a5a5" stroke-width="0.7"/>
<line x1="1342.80" y1="130.00" x2="1342.80" y2="176.80" stroke="#a5a5a5" stroke-width="0.7"/>
<line x1="1354.00" y1="130.00" x2="1354.00" y2="176.80" stroke="#a5a5a5" stroke-width="0.7"/>
<line x1="1365.70" y1="130.00" x2="1365.70" y2="176.80" stroke="#a5a5a5" stroke-width="0.7"/>
<line x1="1376.90" y1="130.00" x2="1376.90" y2="176.80" stroke="#a5a5a5" stroke-width="0.7"/>
<text x="1284.70" y="102.00" font-size="8.6" font-weight="normal" fill="#151515" stroke="#151515" stroke-width="0" textLength="11.70" lengthAdjust="spacingAndGlyphs">DN</text>
<line x1="1298.00" y1="99.50" x2="1320.00" y2="99.50" stroke="#666" stroke-width="0.7"/>
<path d="M1316.5 95.8 L1320 99.5 L1316.5 103.2" fill="none" stroke="#666" stroke-width="0.7" />
<text x="1370.80" y="61.60" font-size="8.6" font-weight="normal" fill="#151515" stroke="#151515" stroke-width="0" textLength="17.20" lengthAdjust="spacingAndGlyphs">Seat</text>
<path d="M1326 52 L1337 48.5 M1326 52 L1434 52 L1421 48.5" fill="none" stroke="#aaa" stroke-width="0.8" />
<rect x="1434.3" y="48" width="5.5" height="10" fill="none" stroke="#ccc" stroke-width="0.7"/>
<path d="M1408 189.5 Q1417 183 1426 189.5" fill="none" stroke="#bbb" stroke-width="0.7" />
<text x="1173.50" y="230.90" font-size="20" font-weight="normal" fill="#151515" stroke="#151515" stroke-width="0.25" textLength="230.90" lengthAdjust="spacingAndGlyphs">Opt. Basement Stairs</text>
<polygon points="1134.4,347.6 1137.4,344.8 1144.5,351.3 1155.7,351.3 1155.7,381.75 1150.2,381.75 1150.2,363" fill="#1b1b1b"/>
<g transform="translate(20.8,282)">
<rect x="1122.00" y="69.30" width="161.00" height="4.20" fill="#1b1b1b"/>
<rect x="1129.30" y="69.40" width="5.70" height="30.40" fill="#1b1b1b"/>
<line x1="1131.60" y1="100.00" x2="1131.60" y2="135.80" stroke="#c8c8c8" stroke-width="0.8" stroke-dasharray="3 2"/>
<line x1="1135.30" y1="100.00" x2="1135.30" y2="135.80" stroke="#b8b8b8" stroke-width="0.8" stroke-dasharray="3 2"/>
<rect x="1129.30" y="135.80" width="5.70" height="9.30" fill="#1b1b1b"/>
<rect x="1129.30" y="141.20" width="49.50" height="3.90" fill="#1b1b1b"/>
<path d="M1209.4 141.6 L1186.8 119.4 L1185.6 120.6 L1208.2 142.6 Z" fill="none" stroke="#777" stroke-width="0.7" />
<path d="M1186.5 119.8 Q1179 128 1178.8 141" fill="none" stroke="#999" stroke-width="0.7" />
<rect x="1209.40" y="141.20" width="19.90" height="3.90" fill="#1b1b1b"/>
<rect x="1225.30" y="141.20" width="4.00" height="37.10" fill="#1b1b1b"/>
<rect x="1159.60" y="145.00" width="4.40" height="37.80" fill="#1b1b1b"/>
<rect x="1159.60" y="177.00" width="6.40" height="11.80" fill="#1b1b1b"/>
<rect x="1159.60" y="177.20" width="76.20" height="5.60" fill="#1b1b1b"/>
<path d="M1272.1 177.6 L1245.7 151.7 L1244.5 152.9 L1270.9 178.6 Z" fill="none" stroke="#777" stroke-width="0.7" />
<path d="M1245.4 152 Q1236.5 162 1236 177" fill="none" stroke="#999" stroke-width="0.7" />
<line x1="1236.00" y1="182.60" x2="1272.00" y2="182.60" stroke="#bbb" stroke-width="0.7"/>
<rect x="1272.10" y="177.20" width="10.90" height="5.60" fill="#1b1b1b"/>
<line x1="1166.00" y1="163.60" x2="1225.30" y2="163.60" stroke="#aaa" stroke-width="0.8" stroke-dasharray="4 2"/>
<line x1="1131.60" y1="145.00" x2="1131.60" y2="191.00" stroke="#9a9a9a" stroke-width="0.7"/>
<line x1="1146.20" y1="145.00" x2="1146.20" y2="191.00" stroke="#c5c5c5" stroke-width="0.8" stroke-dasharray="4 2"/>
<text x="1151.10" y="116.50" font-size="15.2" font-weight="normal" fill="#151515" stroke="#151515" stroke-width="0.25" textLength="112.40" lengthAdjust="spacingAndGlyphs">Owner&#8217;s Entry</text>
<line x1="1183.40" y1="74.00" x2="1183.40" y2="95.00" stroke="#aaa" stroke-width="0.8" stroke-dasharray="2 1.5"/>
<line x1="1135.00" y1="87.00" x2="1183.40" y2="87.00" stroke="#bbb" stroke-width="0.8" stroke-dasharray="2 1.5"/>
<line x1="1135.00" y1="94.60" x2="1183.40" y2="94.60" stroke="#ccc" stroke-width="0.7" stroke-dasharray="2 1.5"/>
<text x="1153.20" y="83.80" font-size="7.8" font-weight="normal" fill="#151515" stroke="#151515" stroke-width="0" textLength="14.20" lengthAdjust="spacingAndGlyphs">Opt</text>
<text x="1136.80" y="93.00" font-size="7.8" font-weight="normal" fill="#151515" stroke="#151515" stroke-width="0" textLength="49.20" lengthAdjust="spacingAndGlyphs">Drop Zone 2</text>
<rect x="1278.90" y="117.70" width="3.90" height="12.05" fill="#1b1b1b"/>
<rect x="1278.90" y="73.60" width="4.50" height="8.00" fill="#1b1b1b"/>
<path d="M1279.5 81.4 L1253.5 107 L1254.7 108.2 L1280.6 82.6 Z" fill="none" stroke="#777" stroke-width="0.7" />
<path d="M1253.8 107.5 Q1265 116.5 1278.9 117.7" fill="none" stroke="#999" stroke-width="0.7" />
</g>
<rect x="1303.80" y="351.75" width="38.95" height="6.00" fill="#1b1b1b"/>
<rect x="1342.75" y="346.80" width="105.75" height="10.95" fill="#1b1b1b"/>
<rect x="1342.75" y="345.00" width="4.50" height="7.00" fill="#1b1b1b"/>
<rect x="1447.75" y="347.00" width="13.05" height="117.70" fill="#1b1b1b"/>
<rect x="1454.50" y="345.00" width="6.30" height="126.00" fill="#1b1b1b"/>
<rect x="1299.25" y="405.00" width="101.55" height="6.75" fill="#1b1b1b"/>
<rect x="1293.25" y="459.00" width="73.50" height="5.70" fill="#1b1b1b"/>
<rect x="1366.75" y="457.20" width="81.25" height="7.50" fill="#1b1b1b"/>
<line x1="1320.25" y1="357.75" x2="1320.25" y2="405.00" stroke="#a5a5a5" stroke-width="0.7"/>
<line x1="1331.50" y1="357.75" x2="1331.50" y2="405.00" stroke="#a5a5a5" stroke-width="0.7"/>
<line x1="1342.75" y1="357.75" x2="1342.75" y2="405.00" stroke="#a5a5a5" stroke-width="0.7"/>
<line x1="1354.30" y1="357.75" x2="1354.30" y2="405.00" stroke="#a5a5a5" stroke-width="0.7"/>
<line x1="1365.70" y1="357.75" x2="1365.70" y2="405.00" stroke="#a5a5a5" stroke-width="0.7"/>
<line x1="1376.80" y1="357.75" x2="1376.80" y2="405.00" stroke="#a5a5a5" stroke-width="0.7"/>
<line x1="1388.50" y1="357.75" x2="1388.50" y2="405.00" stroke="#a5a5a5" stroke-width="0.7"/>
<line x1="1399.75" y1="357.75" x2="1399.75" y2="405.00" stroke="#a5a5a5" stroke-width="0.7"/>
<line x1="1313.50" y1="411.75" x2="1313.50" y2="459.00" stroke="#a5a5a5" stroke-width="0.7"/>
<line x1="1324.75" y1="411.75" x2="1324.75" y2="459.00" stroke="#a5a5a5" stroke-width="0.7"/>
<line x1="1336.30" y1="411.75" x2="1336.30" y2="459.00" stroke="#a5a5a5" stroke-width="0.7"/>
<line x1="1347.70" y1="411.75" x2="1347.70" y2="459.00" stroke="#a5a5a5" stroke-width="0.7"/>
<line x1="1358.50" y1="411.75" x2="1358.50" y2="459.00" stroke="#a5a5a5" stroke-width="0.7"/>
<line x1="1370.20" y1="411.75" x2="1370.20" y2="459.00" stroke="#a5a5a5" stroke-width="0.7"/>
<line x1="1385.50" y1="411.75" x2="1385.50" y2="459.00" stroke="#a5a5a5" stroke-width="0.7"/>
<line x1="1397.20" y1="411.75" x2="1397.20" y2="459.00" stroke="#a5a5a5" stroke-width="0.7"/>
<line x1="1302.70" y1="411.75" x2="1302.70" y2="459.00" stroke="#555" stroke-width="0.8"/>
<line x1="1379.50" y1="411.75" x2="1366.75" y2="459.00" stroke="#888" stroke-width="0.7" stroke-dasharray="3 2"/>
<path d="M1372 431.5 L1368 435 L1371.5 438" fill="none" stroke="#999" stroke-width="0.6" />
<line x1="1368.00" y1="435.00" x2="1378.00" y2="434.00" stroke="#aaa" stroke-width="0.6"/>
<text x="1305.25" y="384.00" font-size="8.6" font-weight="normal" fill="#151515" stroke="#151515" stroke-width="0" textLength="12.00" lengthAdjust="spacingAndGlyphs">DN</text>
<line x1="1319.00" y1="381.30" x2="1340.80" y2="381.30" stroke="#666" stroke-width="0.7"/>
<path d="M1337.3 377.6 L1340.8 381.3 L1337.3 385" fill="none" stroke="#666" stroke-width="0.7" />
<text x="1286.20" y="437.70" font-size="8.6" font-weight="normal" fill="#151515" stroke="#151515" stroke-width="0" textLength="10.50" lengthAdjust="spacingAndGlyphs">UP</text>
<line x1="1298.00" y1="435.30" x2="1320.25" y2="435.30" stroke="#666" stroke-width="0.7"/>
<path d="M1316.7 431.6 L1320.25 435.3 L1316.7 439" fill="none" stroke="#666" stroke-width="0.7" />
<path d="M1427 471.5 Q1437 465 1447 471.5" fill="none" stroke="#bbb" stroke-width="0.7" />
<text x="1176.20" y="519.80" font-size="20" font-weight="normal" fill="#151515" stroke="#151515" stroke-width="0.25" textLength="225.30" lengthAdjust="spacingAndGlyphs">Opt. Stairs for Bonus</text>
<text x="1211.30" y="546.20" font-size="20" font-weight="normal" fill="#151515" stroke="#151515" stroke-width="0.25" textLength="155.10" lengthAdjust="spacingAndGlyphs">and Basement</text>
<polygon points="771.9,355.1 777.3,360.1 790,360.1 789.5,371.1 783.1,371.1 771.9,360.9" fill="#1b1b1b"/>
<g transform="translate(-346,290.8)">
<rect x="1122.00" y="69.30" width="161.00" height="4.20" fill="#1b1b1b"/>
<rect x="1129.30" y="69.40" width="5.70" height="30.40" fill="#1b1b1b"/>
<line x1="1131.60" y1="100.00" x2="1131.60" y2="135.80" stroke="#c8c8c8" stroke-width="0.8" stroke-dasharray="3 2"/>
<line x1="1135.30" y1="100.00" x2="1135.30" y2="135.80" stroke="#b8b8b8" stroke-width="0.8" stroke-dasharray="3 2"/>
<rect x="1129.30" y="135.80" width="5.70" height="9.30" fill="#1b1b1b"/>
<rect x="1129.30" y="141.20" width="49.50" height="3.90" fill="#1b1b1b"/>
<path d="M1209.4 141.6 L1186.8 119.4 L1185.6 120.6 L1208.2 142.6 Z" fill="none" stroke="#777" stroke-width="0.7" />
<path d="M1186.5 119.8 Q1179 128 1178.8 141" fill="none" stroke="#999" stroke-width="0.7" />
<rect x="1209.40" y="141.20" width="19.90" height="3.90" fill="#1b1b1b"/>
<rect x="1225.30" y="141.20" width="4.00" height="37.10" fill="#1b1b1b"/>
<rect x="1159.60" y="145.00" width="4.40" height="37.80" fill="#1b1b1b"/>
<rect x="1159.60" y="177.00" width="6.40" height="11.80" fill="#1b1b1b"/>
<rect x="1159.60" y="177.20" width="76.20" height="5.60" fill="#1b1b1b"/>
<path d="M1272.1 177.6 L1245.7 151.7 L1244.5 152.9 L1270.9 178.6 Z" fill="none" stroke="#777" stroke-width="0.7" />
<path d="M1245.4 152 Q1236.5 162 1236 177" fill="none" stroke="#999" stroke-width="0.7" />
<line x1="1236.00" y1="182.60" x2="1272.00" y2="182.60" stroke="#bbb" stroke-width="0.7"/>
<rect x="1272.10" y="177.20" width="10.90" height="5.60" fill="#1b1b1b"/>
<line x1="1166.00" y1="163.60" x2="1225.30" y2="163.60" stroke="#aaa" stroke-width="0.8" stroke-dasharray="4 2"/>
<line x1="1131.60" y1="145.00" x2="1131.60" y2="191.00" stroke="#9a9a9a" stroke-width="0.7"/>
<line x1="1146.20" y1="145.00" x2="1146.20" y2="191.00" stroke="#c5c5c5" stroke-width="0.8" stroke-dasharray="4 2"/>
<text x="1151.10" y="116.50" font-size="15.2" font-weight="normal" fill="#151515" stroke="#151515" stroke-width="0.25" textLength="112.40" lengthAdjust="spacingAndGlyphs">Owner&#8217;s Entry</text>
</g>
<line x1="772.20" y1="335.90" x2="782.90" y2="346.50" stroke="#666" stroke-width="0.8"/>
<line x1="782.90" y1="344.40" x2="976.00" y2="344.40" stroke="#aaa" stroke-width="0.8"/>
<line x1="782.90" y1="346.50" x2="976.00" y2="346.50" stroke="#999" stroke-width="0.8" stroke-dasharray="4 2"/>
<line x1="789.00" y1="377.50" x2="838.30" y2="377.50" stroke="#aaa" stroke-width="0.8" stroke-dasharray="3 2"/>
<line x1="884.20" y1="377.50" x2="932.70" y2="377.50" stroke="#aaa" stroke-width="0.8" stroke-dasharray="3 2"/>
<line x1="789.00" y1="385.50" x2="932.70" y2="385.50" stroke="#aaa" stroke-width="0.8" stroke-dasharray="3 2"/>
<line x1="838.30" y1="364.20" x2="838.30" y2="377.50" stroke="#bbb" stroke-width="0.8" stroke-dasharray="3 2"/>
<line x1="884.20" y1="364.20" x2="884.20" y2="377.50" stroke="#bbb" stroke-width="0.8" stroke-dasharray="3 2"/>
<text x="853.00" y="381.80" font-size="7.8" font-weight="normal" fill="#151515" stroke="#151515" stroke-width="0" textLength="14.60" lengthAdjust="spacingAndGlyphs">Opt.</text>
<text x="840.20" y="391.90" font-size="7.8" font-weight="normal" fill="#151515" stroke="#151515" stroke-width="0" textLength="42.80" lengthAdjust="spacingAndGlyphs">Drop Zone</text>
<rect x="932.70" y="360.20" width="4.30" height="59.20" fill="#1b1b1b"/>
<rect x="932.70" y="413.30" width="107.80" height="6.40" fill="#1b1b1b"/>
<rect x="975.90" y="356.20" width="112.30" height="9.10" fill="#1b1b1b"/>
<rect x="975.90" y="335.90" width="4.30" height="20.30" fill="#1b1b1b"/>
<rect x="1087.90" y="348.70" width="5.90" height="132.80" fill="#1b1b1b"/>
<rect x="925.80" y="467.60" width="162.20" height="5.80" fill="#1b1b1b"/>
<line x1="980.20" y1="365.30" x2="980.20" y2="413.30" stroke="#aaa" stroke-width="0.7" stroke-dasharray="3 2"/>
<line x1="992.20" y1="365.30" x2="992.20" y2="413.30" stroke="#aaa" stroke-width="0.7" stroke-dasharray="3 2"/>
<line x1="1003.40" y1="365.30" x2="1003.40" y2="413.30" stroke="#aaa" stroke-width="0.7" stroke-dasharray="3 2"/>
<line x1="1014.30" y1="365.30" x2="1014.30" y2="413.30" stroke="#aaa" stroke-width="0.7" stroke-dasharray="3 2"/>
<line x1="1025.80" y1="365.30" x2="1025.80" y2="413.30" stroke="#aaa" stroke-width="0.7" stroke-dasharray="3 2"/>
<line x1="1036.70" y1="365.30" x2="1036.70" y2="413.30" stroke="#aaa" stroke-width="0.7" stroke-dasharray="3 2"/>
<line x1="947.00" y1="419.70" x2="947.00" y2="467.00" stroke="#a5a5a5" stroke-width="0.7"/>
<line x1="958.60" y1="419.70" x2="958.60" y2="467.00" stroke="#a5a5a5" stroke-width="0.7"/>
<line x1="969.50" y1="419.70" x2="969.50" y2="467.00" stroke="#a5a5a5" stroke-width="0.7"/>
<line x1="980.70" y1="419.70" x2="980.70" y2="467.00" stroke="#a5a5a5" stroke-width="0.7"/>
<line x1="992.20" y1="419.70" x2="992.20" y2="467.00" stroke="#a5a5a5" stroke-width="0.7"/>
<line x1="1003.40" y1="419.70" x2="1003.40" y2="467.00" stroke="#a5a5a5" stroke-width="0.7"/>
<line x1="1014.30" y1="419.70" x2="1014.30" y2="467.00" stroke="#a5a5a5" stroke-width="0.7"/>
<line x1="1025.80" y1="419.70" x2="1025.80" y2="467.00" stroke="#a5a5a5" stroke-width="0.7"/>
<line x1="1036.70" y1="419.70" x2="1036.70" y2="467.00" stroke="#aaa" stroke-width="0.7" stroke-dasharray="3 2"/>
<line x1="935.60" y1="419.40" x2="935.60" y2="467.00" stroke="#555" stroke-width="0.8"/>
<text x="944.50" y="391.00" font-size="8.6" font-weight="normal" fill="#151515" stroke="#151515" stroke-width="0" textLength="31.40" lengthAdjust="spacingAndGlyphs">Storage</text>
<text x="1025.00" y="351.90" font-size="8.6" font-weight="normal" fill="#151515" stroke="#151515" stroke-width="0" textLength="17.00" lengthAdjust="spacingAndGlyphs">Seat</text>
<path d="M980.2 342.3 L998 336 M980.2 342.3 L1088 342.3 L1068 336" fill="none" stroke="#aaa" stroke-width="0.8" />
<rect x="1088.2" y="336" width="5.5" height="12" fill="none" stroke="#ccc" stroke-width="0.7"/>
<line x1="936.50" y1="359.40" x2="976.00" y2="359.40" stroke="#999" stroke-width="0.8" stroke-dasharray="3 2"/>
<line x1="936.50" y1="363.40" x2="976.00" y2="363.40" stroke="#999" stroke-width="0.8" stroke-dasharray="3 2"/>
<text x="919.20" y="445.60" font-size="8.6" font-weight="normal" fill="#151515" stroke="#151515" stroke-width="0" textLength="10.60" lengthAdjust="spacingAndGlyphs">UP</text>
<line x1="930.50" y1="443.00" x2="953.80" y2="443.00" stroke="#666" stroke-width="0.7"/>
<path d="M950.2 439.3 L953.8 443 L950.2 446.7" fill="none" stroke="#666" stroke-width="0.7" />
<path d="M1058.6 484.5 Q1071 472 1083.4 484.5" fill="none" stroke="#999" stroke-width="0.8" />
<text x="813.20" y="519.80" font-size="20" font-weight="normal" fill="#151515" stroke="#151515" stroke-width="0.25" textLength="217.10" lengthAdjust="spacingAndGlyphs">Opt. Stairs to Bonus</text>
<rect x="0.00" y="947.20" width="162.00" height="52.80" fill="#616161"/>
<text x="12" y="982.8" font-family="Liberation Serif" font-size="35" font-weight="bold" fill="#e4e4e4" textLength="96" lengthAdjust="spacingAndGlyphs" style="font-family:'Liberation Serif',serif">bright</text>
<polygon points="100,962 103.5,965.5 100,969 96.5,965.5" fill="#d9533a"/>
<text x="115.80" y="982.80" font-size="17.5" font-weight="normal" fill="#e4e4e4" stroke="#e4e4e4" stroke-width="0" textLength="34.80" lengthAdjust="spacingAndGlyphs">MLS</text>
<text x="108.00" y="960.50" font-size="4" font-weight="normal" fill="#e4e4e4" stroke="#e4e4e4" stroke-width="0" textLength="5.00" lengthAdjust="spacingAndGlyphs">TM</text>
<text x="710.50" y="914.10" font-size="30" font-weight="bold" fill="#151515" stroke="#151515" stroke-width="0" textLength="80.50" lengthAdjust="spacingAndGlyphs">Unity</text>
<text x="603.90" y="952.50" font-size="30" font-weight="bold" fill="#151515" stroke="#151515" stroke-width="0" textLength="293.30" lengthAdjust="spacingAndGlyphs">First Floor Options</text>
</svg></body></html>
